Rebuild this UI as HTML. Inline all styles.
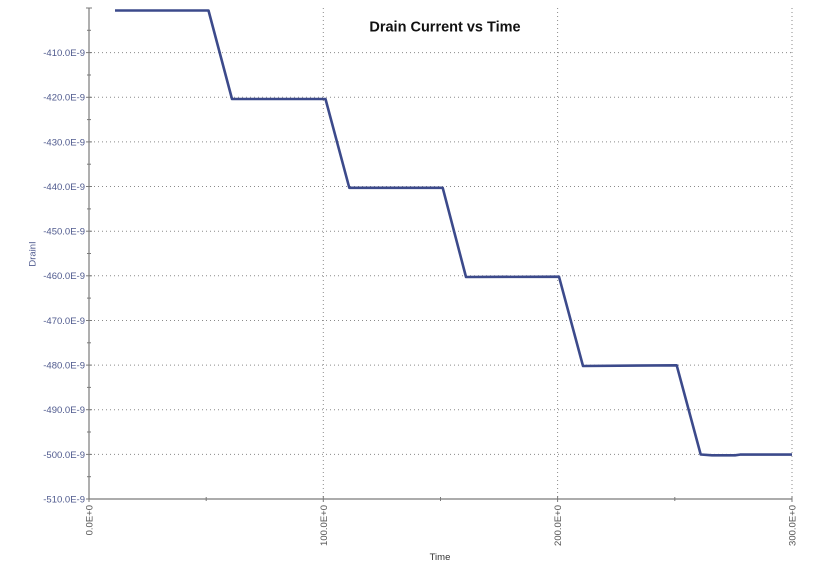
<!DOCTYPE html>
<html>
<head>
<meta charset="utf-8">
<style>
  html, body { margin:0; padding:0; background:#ffffff; }
  svg { display:block; }
  text { font-family: "Liberation Sans", Arial, sans-serif; }
</style>
</head>
<body>
<svg width="817" height="569" viewBox="0 0 817 569" xmlns="http://www.w3.org/2000/svg">
  <rect width="817" height="569" fill="#ffffff"/>

  <!-- horizontal dotted grid -->
  <g stroke="#8a8a8a" stroke-width="1" stroke-dasharray="1,3" fill="none">
    <line x1="90" y1="52.6" x2="792" y2="52.6"/>
    <line x1="90" y1="97.3" x2="792" y2="97.3"/>
    <line x1="90" y1="141.9" x2="792" y2="141.9"/>
    <line x1="90" y1="186.5" x2="792" y2="186.5"/>
    <line x1="90" y1="231.2" x2="792" y2="231.2"/>
    <line x1="90" y1="275.8" x2="792" y2="275.8"/>
    <line x1="90" y1="320.5" x2="792" y2="320.5"/>
    <line x1="90" y1="365.1" x2="792" y2="365.1"/>
    <line x1="90" y1="409.7" x2="792" y2="409.7"/>
    <line x1="90" y1="454.4" x2="792" y2="454.4"/>
  </g>
  <!-- vertical dotted grid -->
  <g stroke="#8a8a8a" stroke-width="1" stroke-dasharray="1,3" fill="none">
    <line x1="323.3" y1="8" x2="323.3" y2="498"/>
    <line x1="557.6" y1="8" x2="557.6" y2="498"/>
    <line x1="792" y1="8" x2="792" y2="498"/>
  </g>

  <!-- axes -->
  <g stroke="#7a7a7a" stroke-width="1.2" fill="none">
    <line x1="89" y1="8" x2="89" y2="499"/>
    <line x1="89" y1="499" x2="792.5" y2="499"/>
  </g>
  <!-- y ticks -->
  <g stroke="#7a7a7a" stroke-width="1" fill="none">
    <line x1="86" y1="8" x2="92" y2="8"/>
    <line x1="87" y1="30.3" x2="91" y2="30.3"/>
    <line x1="86" y1="52.6" x2="92" y2="52.6"/>
    <line x1="87" y1="75" x2="91" y2="75"/>
    <line x1="86" y1="97.3" x2="92" y2="97.3"/>
    <line x1="87" y1="119.6" x2="91" y2="119.6"/>
    <line x1="86" y1="141.9" x2="92" y2="141.9"/>
    <line x1="87" y1="164.2" x2="91" y2="164.2"/>
    <line x1="86" y1="186.5" x2="92" y2="186.5"/>
    <line x1="87" y1="208.9" x2="91" y2="208.9"/>
    <line x1="86" y1="231.2" x2="92" y2="231.2"/>
    <line x1="87" y1="253.5" x2="91" y2="253.5"/>
    <line x1="86" y1="275.8" x2="92" y2="275.8"/>
    <line x1="87" y1="298.1" x2="91" y2="298.1"/>
    <line x1="86" y1="320.5" x2="92" y2="320.5"/>
    <line x1="87" y1="342.8" x2="91" y2="342.8"/>
    <line x1="86" y1="365.1" x2="92" y2="365.1"/>
    <line x1="87" y1="387.4" x2="91" y2="387.4"/>
    <line x1="86" y1="409.7" x2="92" y2="409.7"/>
    <line x1="87" y1="432" x2="91" y2="432"/>
    <line x1="86" y1="454.4" x2="92" y2="454.4"/>
    <line x1="87" y1="476.7" x2="91" y2="476.7"/>
    <line x1="86" y1="499" x2="92" y2="499"/>
  </g>
  <!-- x ticks -->
  <g stroke="#7a7a7a" stroke-width="1" fill="none">
    <line x1="89" y1="496" x2="89" y2="502"/>
    <line x1="206.2" y1="497" x2="206.2" y2="501"/>
    <line x1="323.3" y1="496" x2="323.3" y2="502"/>
    <line x1="440.5" y1="497" x2="440.5" y2="501"/>
    <line x1="557.6" y1="496" x2="557.6" y2="502"/>
    <line x1="674.8" y1="497" x2="674.8" y2="501"/>
    <line x1="792" y1="496" x2="792" y2="502"/>
  </g>

  <!-- y tick labels -->
  <g fill="#4f5a8e" font-size="9.5" text-anchor="end">
    <text x="85" y="56">-410.0E-9</text>
    <text x="85" y="100.7">-420.0E-9</text>
    <text x="85" y="145.3">-430.0E-9</text>
    <text x="85" y="189.9">-440.0E-9</text>
    <text x="85" y="234.6">-450.0E-9</text>
    <text x="85" y="279.2">-460.0E-9</text>
    <text x="85" y="323.9">-470.0E-9</text>
    <text x="85" y="368.5">-480.0E-9</text>
    <text x="85" y="413.1">-490.0E-9</text>
    <text x="85" y="457.8">-500.0E-9</text>
    <text x="85" y="502.4">-510.0E-9</text>
  </g>

  <!-- x tick labels (rotated) -->
  <g fill="#555555" font-size="9.5" text-anchor="end">
    <text transform="translate(92.5,505) rotate(-90)">0.0E+0</text>
    <text transform="translate(326.8,505) rotate(-90)">100.0E+0</text>
    <text transform="translate(561.1,505) rotate(-90)">200.0E+0</text>
    <text transform="translate(795.5,505) rotate(-90)">300.0E+0</text>
  </g>

  <!-- axis titles -->
  <text x="440" y="560" font-size="9.5" fill="#333333" text-anchor="middle">Time</text>
  <text transform="translate(35.5,254) rotate(-90)" font-size="9.5" fill="#4f5a8e" text-anchor="middle">DrainI</text>

  <!-- chart title -->
  <text x="445" y="31.5" font-size="14.5" font-weight="bold" fill="#111111" text-anchor="middle">Drain Current vs Time</text>

  <!-- data series -->
  <polyline fill="none" stroke="#3c4a8b" stroke-width="2.6" stroke-linejoin="round"
    points="115,10.5 208.5,10.5 232,99 325.5,99 349.3,187.8 430,187.8 442.7,187.8 466,277 559,276.7 583,366 676.7,365.3 700.7,454.5 712,455.3 735,455.3 740,454.6 792,454.6"/>
</svg>
</body>
</html>
